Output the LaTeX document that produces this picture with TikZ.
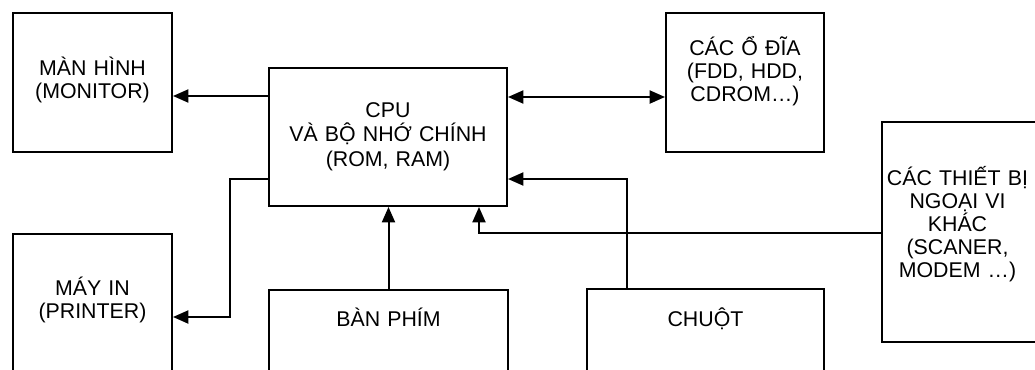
\documentclass[tikz,border=0pt]{standalone}
\usepackage{fontspec}
\setmainfont{Liberation Sans}
\usetikzlibrary{arrows.meta}
\begin{document}
\begin{tikzpicture}[x=0.75pt,y=-0.75pt,
  box/.style={draw, line width=1.5pt, inner sep=0pt},
  txt/.style={inner sep=0pt, anchor=base, align=center, text width=200*0.75pt,
              font=\fontsize{16pt}{17.25pt}\selectfont},
  conn/.style={line width=1.5pt},
  tip/.style={-{Triangle[length=11.5pt,width=9.75pt]}},
  dtip/.style={{Triangle[length=11.5pt,width=9.75pt]}-{Triangle[length=11.5pt,width=9.75pt]}}]
\fill[white] (0,0) rectangle (1035,369);
\useasboundingbox (0,0) rectangle (1035,369);
\clip (0,0) rectangle (1035,369);

% boxes
\node[box, minimum width=159*0.75pt, minimum height=139*0.75pt] (mon) at (92.5,82.5) {};
\node[box, minimum width=238*0.75pt, minimum height=138*0.75pt] (cpu) at (388,137) {};
\node[box, minimum width=158*0.75pt, minimum height=139*0.75pt] (disk) at (745,82.5) {};
\node[box, minimum width=158*0.75pt, minimum height=220*0.75pt] (per) at (961,232) {};
\node[box, minimum width=159*0.75pt, minimum height=150*0.75pt] (prn) at (92.5,309) {};
\node[box, minimum width=239*0.75pt, minimum height=94*0.75pt] (kbd) at (388.5,337) {};
\node[box, minimum width=237*0.75pt, minimum height=95*0.75pt] (mouse) at (705.5,336.5) {};

% texts
\node[txt] (mon-t) at (92.5,75) {MÀN HÌNH\\(MONITOR)};
\node[txt, font=\fontsize{16pt}{18.5pt}\selectfont] (cpu-t) at (388,117) {CPU\\VÀ BỘ NHỚ CHÍNH\\(ROM, RAM)};
\node[txt] (disk-t) at (745,55) {CÁC Ổ ĐĨA\\(FDD, HDD,\\CDROM…)};
\node[txt] (per-t) at (957.5,185) {CÁC THIẾT BỊ\\NGOẠI VI\\KHÁC\\(SCANER,\\MODEM …)};
\node[txt] (prn-t) at (92.5,295) {MÁY IN\\(PRINTER)};
\node[txt] (kbd-t) at (388.5,326.7) {BÀN PHÍM};
\node[txt] (mouse-t) at (705.5,326.7) {CHUỘT};

% bend points
\coordinate (a1) at (0,96);
\coordinate (a2) at (0,97);
\coordinate (p1) at (230,179);
\coordinate (p2) at (230,317);
\coordinate (m1) at (627,179);
\coordinate (q1) at (479,233);

% connectors
\draw[conn,tip] (cpu.west |- a1) -- (mon.east |- a1);
\draw[conn,dtip] (cpu.east |- a2) -- (disk.west |- a2);
\draw[conn,tip] (cpu.west |- p1) -- (p1) -- (p2) -- (prn.east |- p2);
\draw[conn,tip] (kbd.north) -- (kbd.north |- cpu.south);
\draw[conn,tip] (mouse.north -| m1) -- (m1) -- (cpu.east |- m1);
\draw[conn,tip] (per.west |- q1) -- (q1) -- (cpu.south -| q1);
\end{tikzpicture}
\end{document}
